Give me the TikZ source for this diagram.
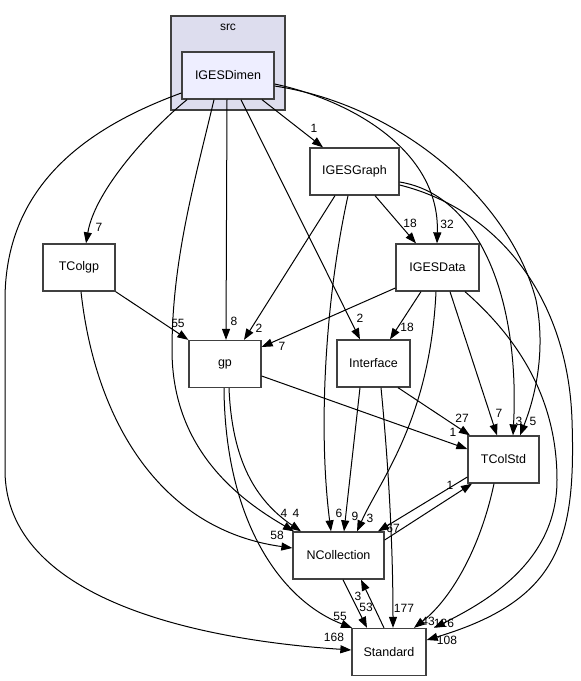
\documentclass[tikz,border=0pt]{standalone}
\usepackage{fontspec}
\setmainfont{Liberation Sans}
\usetikzlibrary{arrows.meta}
\begin{document}
\begin{tikzpicture}[x=1pt,y=-1pt,
  box/.style={draw=black!75,line width=1.3pt,fill=white,minimum height=47pt,inner sep=0pt,font=\fontsize{12.5}{14}\selectfont},
  cluster/.style={draw=black!75,line width=1.3pt,inner sep=0pt},
  dep/.style={-{Triangle[length=11pt,width=8pt]},line width=1pt},
  lbl/.style={font=\fontsize{12}{14}\selectfont,inner sep=0pt}]
\useasboundingbox (0,0) rectangle (581,681);
% cluster
\node[cluster,fill={rgb,255:red,221;green,221;blue,238},minimum width=114pt,minimum height=94pt] (src) at (228,63) {};
\node[lbl] (srclbl) at (228,27) {src};
% nodes
\node[box,fill={rgb,255:red,238;green,238;blue,255},minimum width=92pt] (IGESDimen) at (228,75.5) {IGESDimen};
\node[box,minimum width=89pt] (IGESGraph) at (354.5,171.5) {IGESGraph};
\node[box,minimum width=83pt] (IGESData) at (437.5,267.5) {IGESData};
\node[box,minimum width=72pt] (TColgp) at (79,267.5) {TColgp};
\node[box,minimum width=72pt] (gp) at (225,364) {gp};
\node[box,minimum width=73pt] (Interface) at (373.5,363.5) {Interface};
\node[box,minimum width=71pt] (TColStd) at (503.5,459.5) {TColStd};
\node[box,minimum width=91pt] (NCollection) at (338.5,555.5) {NCollection};
\node[box,minimum width=74pt] (Standard) at (389,652) {Standard};
% edges
\draw[dep] (262,0 |- IGESDimen.south) -- (323,0 |- IGESGraph.north);
\node[lbl] (l1) at (314,128) {1};
\draw[dep] (187,0 |- IGESDimen.south) .. controls (150,130) and (95,190) .. (86,0 |- TColgp.north);
\node[lbl] (l2) at (99,227) {7};
\draw[dep] (227,0 |- IGESDimen.south) -- (226,0 |- gp.north);
\node[lbl] (l3) at (234,321) {8};
\draw[dep] (241,0 |- IGESDimen.south) -- (360,0 |- Interface.north);
\node[lbl] (l4) at (360,318) {2};
\draw[dep] (IGESDimen.east |- 0,84) .. controls (350,100) and (440,150) .. (437,0 |- IGESData.north);
\node[lbl] (l5) at (447,224) {32};
\draw[dep] (IGESDimen.east |- 0,86) .. controls (400,105) and (510,200) .. (536,300) .. controls (548,360) and (530,410) .. (520,0 |- TColStd.north);
\node[lbl] (l6) at (533,421) {5};
\draw[dep] (214,0 |- IGESDimen.south) .. controls (195,180) and (172,260) .. (172,350) .. controls (172,450) and (240,500) .. (294,0 |- NCollection.north);
\node[lbl] (l7) at (284,513) {4};
\draw[dep] (IGESDimen.west |- 0,93) .. controls (80,130) and (5,190) .. (5,300) -- (5,470) .. controls (5,600) and (200,640) .. (Standard.west |- 0,650);
\node[lbl] (l8) at (334,637) {168};
\draw[dep] (335,0 |- IGESGraph.south) -- (244,0 |- gp.north);
\node[lbl] (l9) at (259,328) {2};
\draw[dep] (375,0 |- IGESGraph.south) -- (416,0 |- IGESData.north);
\node[lbl] (l10) at (410,223) {18};
\draw[dep] (348,0 |- IGESGraph.south) .. controls (325,300) and (318,430) .. (331,0 |- NCollection.north);
\node[lbl] (l11) at (339,513) {6};
\draw[dep] (IGESGraph.east |- 0,182) .. controls (480,195) and (520,300) .. (513,0 |- TColStd.north);
\node[lbl] (l12) at (519,421) {3};
\draw[dep] (IGESGraph.east |- 0,185) .. controls (500,210) and (568,300) .. (572,420) .. controls (576,540) and (560,600) .. (Standard.east |- 0,640);
\node[lbl] (l13) at (447,640) {108};
\draw[dep] (IGESData.west |- 0,288) -- (gp.east |- 0,347);
\node[lbl] (l14) at (282,346) {7};
\draw[dep] (421,0 |- IGESData.south) -- (390,0 |- Interface.north);
\node[lbl] (l15) at (407,327) {18};
\draw[dep] (436,0 |- IGESData.south) .. controls (430,420) and (380,480) .. (357,0 |- NCollection.north);
\node[lbl] (l16) at (370,518) {3};
\draw[dep] (450,0 |- IGESData.south) -- (497,0 |- TColStd.north);
\node[lbl] (l17) at (499,413) {7};
\draw[dep] (465,0 |- IGESData.south) .. controls (520,340) and (557,400) .. (557,480) .. controls (557,560) and (490,600) .. (434,0 |- Standard.north);
\node[lbl] (l18) at (444,623) {126};
\draw[dep] (TColgp.south east) -- (gp.north west);
\node[lbl] (l19) at (178,323) {55};
\draw[dep] (81,0 |- TColgp.south) .. controls (95,420) and (160,530) .. (NCollection.west |- 0,548);
\node[lbl] (l20) at (277,535) {58};
\draw[dep] (gp.east |- 0,376) -- (TColStd.west |- 0,449);
\node[lbl] (l21) at (453,432) {1};
\draw[dep] (229,0 |- gp.south) .. controls (232,460) and (255,500) .. (301,0 |- NCollection.north);
\node[lbl] (l22) at (296,513) {4};
\draw[dep] (224,0 |- gp.south) .. controls (225,520) and (280,600) .. (352,0 |- Standard.north);
\node[lbl] (l23) at (340,616) {55};
\draw[dep] (398,0 |- Interface.south) -- (470,0 |- TColStd.north);
\node[lbl] (l24) at (462,418) {27};
\draw[dep] (360,0 |- Interface.south) -- (344,0 |- NCollection.north);
\node[lbl] (l25) at (355,516) {9};
\draw[dep] (381,0 |- Interface.south) .. controls (390,480) and (393,560) .. (393,0 |- Standard.north);
\node[lbl] (l26) at (404,608) {177};
\draw[dep] (TColStd.west |- 0,477) -- (378,0 |- NCollection.north);
\node[lbl] (l27) at (393,528) {67};
\draw[dep] (NCollection.east |- 0,540) -- (472,0 |- TColStd.south);
\node[lbl] (l28) at (450,485) {1};
\draw[dep] (494,0 |- TColStd.south) .. controls (480,550) and (450,600) .. (414,0 |- Standard.north);
\node[lbl] (l29) at (428,621) {43};
\draw[dep] (343,0 |- NCollection.south) -- (367,0 |- Standard.north);
\node[lbl] (l30) at (366,607) {53};
\draw[dep] (384,0 |- Standard.north) -- (361,0 |- NCollection.south);
\node[lbl] (l31) at (358,596) {3};
\end{tikzpicture}
\end{document}
